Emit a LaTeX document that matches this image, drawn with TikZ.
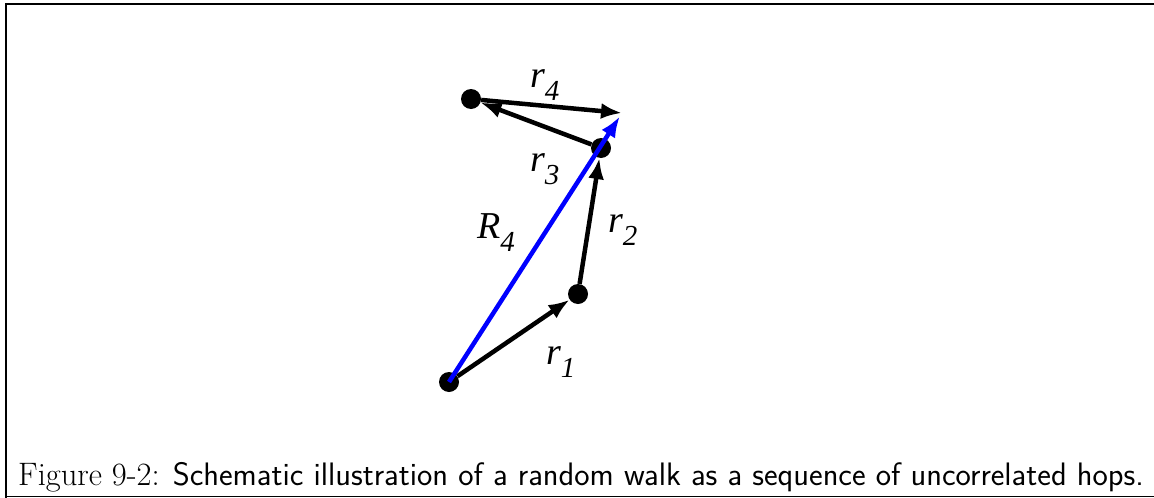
\documentclass[tikz,border=0pt]{standalone}
\usepackage{fontspec}
\newfontfamily\hopfont{Liberation Serif}
\usetikzlibrary{arrows.meta}

% label r_i in the italic serif of the figure
\newcommand{\hoplabel}[2]{{\hopfont\itshape\fontsize{38}{38}\selectfont #1\raisebox{-13pt}{\fontsize{29}{29}\selectfont #2}}}

\begin{document}
\begin{tikzpicture}[x=1pt, y=-1pt,
    site/.style={circle, fill=black, inner sep=0pt, minimum size=20pt},
    hop/.style={line width=4.5pt, -{Latex[length=21pt,width=16pt]}},
    lbl/.style={anchor=base west, inner sep=0pt}]
    \useasboundingbox (0,0) rectangle (1154,498);
    % frame, right side runs off the page
    \draw[line width=2pt] (6,498) -- (6,4) -- (1154,4);
    \draw[line width=1pt] (6,496.5) -- (1154,496.5);
    % sites of the walk
    \node[site] (p0) at (449,382) {};
    \node[site] (p1) at (578,294) {};
    \node[site] (p2) at (601,148) {};
    \node[site] (p3) at (471,99) {};
    \coordinate (p4) at (622,113);
    % hops
    \draw[hop] (p0) -- (p1);
    \draw[hop] (p1) -- (p2);
    \draw[hop] (p2) -- (p3);
    \draw[hop] (p3) -- (p4);
    % net displacement
    \draw[hop, blue, shorten >=4pt] (p0.center) -- (p4);
    % labels
    \node[lbl] (l1) at (546,364) {\hoplabel{r}{1}};
    \node[lbl] (l2) at (608,232) {\hoplabel{r}{2}};
    \node[lbl] (l3) at (530,171) {\hoplabel{r}{3}};
    \node[lbl] (l4) at (530,87) {\hoplabel{r}{4}};
    \node[lbl] (lR) at (477,238) {\hoplabel{R}{4}};
    % caption
    \node[lbl, font=\fontsize{32.5}{38}\selectfont] (caption) at (18,485)
        {\rmfamily Figure 9-2: \sffamily Schematic illustration of a random walk as a sequence of uncorrelated hops.};
\end{tikzpicture}
\end{document}
